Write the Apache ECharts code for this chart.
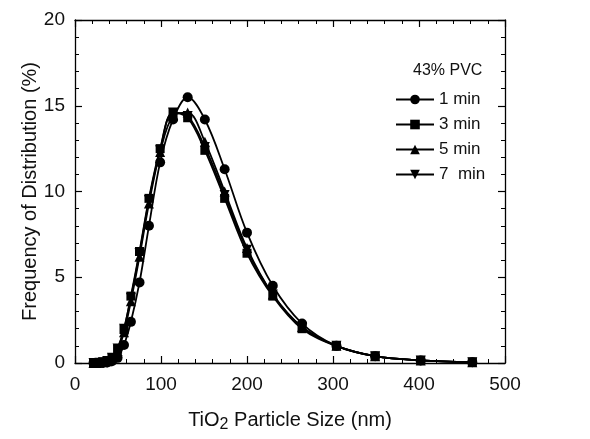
<!DOCTYPE html>
<html><head><meta charset="utf-8">
<script src="https://cdn.jsdelivr.net/npm/echarts@6/dist/echarts.min.js"></script>
<style>html,body{margin:0;padding:0;background:#fff}#c{width:590px;height:439px}</style>
</head><body><div id="c"></div>
<script>
const sizes = [21.5, 24.5, 28.5, 32.5, 37.5, 43, 49.5, 57, 65, 75, 86, 99, 114, 131, 151, 174, 200, 230, 264, 304, 349, 402, 462];
const min1 = [0, 0, 0, 0.01, 0.03, 0.1, 0.3, 1.05, 2.4, 4.7, 8.0, 11.7, 14.2, 15.5, 14.2, 11.3, 7.6, 4.5, 2.3, 1.0, 0.4, 0.15, 0.05];
const min3 = [0, 0, 0.02, 0.05, 0.12, 0.3, 0.8, 1.95, 3.9, 6.5, 9.6, 12.5, 14.6, 14.3, 12.4, 9.6, 6.4, 3.9, 2.0, 1.0, 0.4, 0.15, 0.05];
const min5 = [0, 0, 0.02, 0.04, 0.1, 0.25, 0.7, 1.8, 3.6, 6.2, 9.3, 12.3, 14.4, 14.6, 12.9, 10.0, 6.7, 4.0, 2.1, 1.0, 0.4, 0.15, 0.05];
const min7 = [0, 0, 0.02, 0.05, 0.12, 0.3, 0.85, 2.0, 3.8, 6.4, 9.5, 12.4, 14.6, 14.4, 12.6, 9.8, 6.6, 4.0, 2.1, 1.0, 0.4, 0.15, 0.05];
const seriesNames = ['1 min', '3 min', '5 min', '7  min'];
const xTicks = [0, 100, 200, 300, 400, 500];
const yTicks = [0, 5, 10, 15, 20];

const FONT = 'Liberation Sans, Arial, sans-serif';
const pair = arr => sizes.map((x, i) => [x, arr[i]]);
const symbols = ['circle', 'rect', 'triangle', 'triangle'];
const rot = [0, 0, 0, 180];
const symSize = [10, 9, 10, 10];
const all = [min1, min3, min5, min7];

const chart = echarts.init(document.getElementById('c'), null, {renderer: 'canvas'});
const axisCommon = () => ({
  axisLine: {show: true, onZero: false, lineStyle: {color: '#000', width: 1.3}},
  axisTick: {show: true, inside: true, length: 7, lineStyle: {color: '#000', width: 1.2}},
  minorTick: {show: true, splitNumber: 5, length: 4, lineStyle: {color: '#000', width: 1}},
  splitLine: {show: false}
});
chart.setOption({
  animation: false,
  backgroundColor: '#fff',
  grid: {left: 75, right: 85, top: 20, bottom: 76},
  xAxis: [
    Object.assign({type: 'value', min: xTicks[0], max: xTicks[xTicks.length-1], interval: 100, position: 'bottom',
      axisLabel: {color: '#111', fontSize: 19, fontFamily: FONT, margin: 12},
      name: 'TiO{sub|2} Particle Size (nm)', nameLocation: 'middle', nameGap: 45, nameMoveOverlap: false,
      nameTextStyle: {color: '#111', fontSize: 20, fontFamily: FONT,
        rich: {sub: {fontSize: 16, fontFamily: FONT, color: '#111', verticalAlign: 'bottom', padding: [9, 0, 0, 0]}}}
    }, axisCommon()),
    Object.assign({type: 'value', min: 0, max: 500, interval: 100, position: 'top', axisLabel: {show: false}}, axisCommon())
  ],
  yAxis: [
    Object.assign({type: 'value', min: yTicks[0], max: yTicks[yTicks.length-1], interval: 5, position: 'left',
      axisLabel: {color: '#111', fontSize: 19, fontFamily: FONT, margin: 10},
      name: 'Frequency of Distribution (%)', nameLocation: 'middle', nameGap: 35, nameMoveOverlap: false,
      nameTextStyle: {color: '#111', fontSize: 20, fontFamily: FONT}
    }, axisCommon()),
    Object.assign({type: 'value', min: 0, max: 20, interval: 5, position: 'right', axisLabel: {show: false}}, axisCommon())
  ],
  legend: {
    orient: 'vertical', left: 390, top: 86, itemWidth: 38, itemHeight: 12, itemGap: 8,
    textStyle: {color: '#111', fontSize: 17, fontFamily: FONT},
    data: seriesNames
  },
  graphic: [{type: 'text', left: 413, top: 63, style: {text: '43% PVC', fill: '#111', font: '16px ' + FONT}}],
  series: all.map((arr, i) => ({
    name: seriesNames[i], type: 'line', data: pair(arr), smooth: 0.35,
    symbol: symbols[i], symbolSize: symSize[i], symbolRotate: rot[i],
    lineStyle: {color: '#000', width: 1.8}, itemStyle: {color: '#000'},
    z: 10 - i
  }))
});
</script></body></html>
